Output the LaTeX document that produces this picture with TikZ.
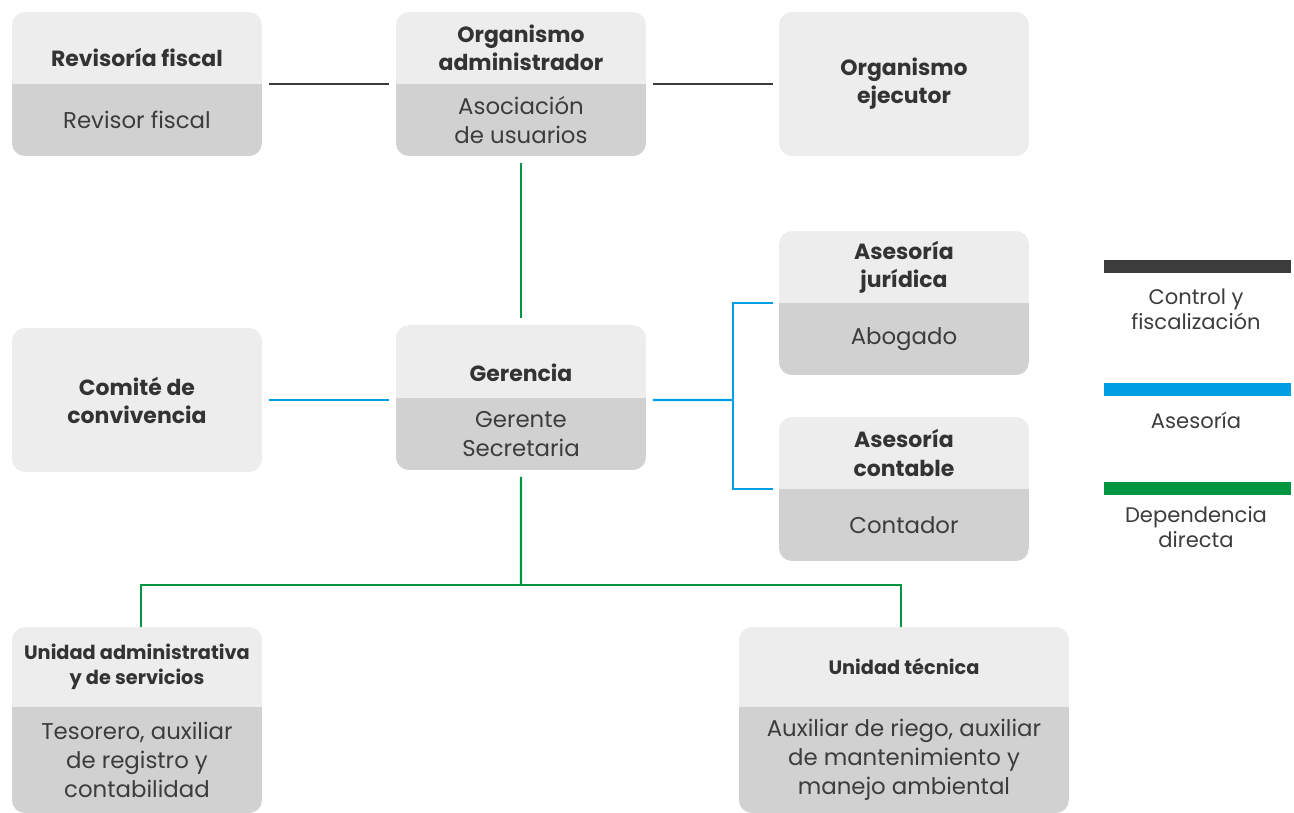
\documentclass[tikz,border=0pt]{standalone}
\usepackage{fontspec}
\setmainfont{Poppins}
\usetikzlibrary{calc}

\definecolor{claro}{HTML}{EDEDED}
\definecolor{oscuro}{HTML}{D1D1D1}
\definecolor{texto}{HTML}{3C3C3C}
\definecolor{lineacontrol}{HTML}{3C3C3C}
\definecolor{lineaasesoria}{HTML}{009FE3}
\definecolor{lineadependencia}{HTML}{00963F}

\tikzset{
  caja/.style={fill=claro, rounded corners=0.26cm, anchor=north west, inner sep=0pt, outer sep=0pt},
  titulo/.style={font=\fontsize{12.5}{16}\selectfont\bfseries, text=texto!85!black, align=center},
  titulochico/.style={font=\fontsize{11}{14.5}\selectfont\bfseries},
  cuerpo/.style={font=\fontsize{13}{16.5}\selectfont, text=texto, align=center},
  leyenda/.style={font=\fontsize{12}{14.2}\selectfont, text=texto, align=center},
  control/.style={draw=lineacontrol, line width=1.2pt},
  asesoria/.style={draw=lineaasesoria, line width=1.2pt},
  dependencia/.style={draw=lineadependencia, line width=1.2pt},
}

% caja con cabecera clara y cuerpo oscuro
% [opciones del titulo] nombre, x, y, ancho, alto, alto cabecera, titulo, cuerpo
\newcommand\orgcaja[9][]{%
  \node[caja, minimum width=#5, minimum height=#6] (#2) at (#3,#4) {};
  \coordinate (#2-so) at ([yshift=-#7]#2.north west);
  \coordinate (#2-se) at ([yshift=-#7]#2.north east);
  \begin{scope}
    \clip[rounded corners=0.26cm] (#2.north west) rectangle (#2.south east);
    \fill[oscuro] (#2-so) rectangle (#2.south east);
  \end{scope}
  \node[titulo, #1] (#2-t) at ($(#2.north west)!0.5!(#2-se)$) {#8};
  \node[cuerpo] (#2-c) at ($(#2-so)!0.5!(#2.south east)$) {#9};
}

\begin{document}
\begin{tikzpicture}[x=0.02cm, y=-0.02cm]
  \useasboundingbox (0,0) rectangle (1294,812);

  % Fila superior
  \orgcaja[yshift=-0.18cm]{rev}{12}{12}{5cm}{2.88cm}{1.44cm}{Revisoría fiscal}{Revisor fiscal}
  \orgcaja{adm}{396}{12}{5cm}{2.88cm}{1.44cm}{Organismo\\administrador}{Asociación\\de usuarios}
  \node[caja, titulo, minimum width=5cm, minimum height=2.88cm] (ejec) at (779,12) {Organismo\\ejecutor};

  % Fila media
  \node[caja, titulo, minimum width=5cm, minimum height=2.88cm] (com) at (12,328) {Comité de\\convivencia};
  \orgcaja[yshift=-0.23cm]{ger}{396}{325}{5cm}{2.9cm}{1.46cm}{Gerencia}{Gerente\\Secretaria}
  \orgcaja{jur}{779}{231}{5cm}{2.88cm}{1.44cm}{Asesoría\\jurídica}{Abogado}
  \orgcaja{con}{779}{417}{5cm}{2.88cm}{1.44cm}{Asesoría\\contable}{Contador}

  % Fila inferior
  \orgcaja[titulochico]{uadm}{12}{627}{5cm}{3.72cm}{1.6cm}{Unidad administrativa\\y de servicios}{Tesorero, auxiliar\\de registro y\\contabilidad}
  \orgcaja[titulochico]{utec}{739}{627}{6.6cm}{3.72cm}{1.6cm}{Unidad técnica}{Auxiliar de riego, auxiliar\\de mantenimiento y\\manejo ambiental}

  % Control y fiscalizacion
  \draw[control] ([xshift=0.14cm]rev-se) -- ([xshift=-0.14cm]adm-so);
  \draw[control] ([xshift=0.14cm]adm-se) -- ([xshift=-0.12cm]ejec.west);

  % Asesoria
  \coordinate (asesor) at (733,400);
  \draw[asesoria] ([xshift=0.14cm]com.east) -- ([xshift=-0.14cm]ger.west |- com.east);
  \draw[asesoria] ([xshift=0.14cm]ger.east |- com.east) -- (asesor);
  \draw[asesoria] ([xshift=-0.12cm]jur-so) -| (asesor) |- ([xshift=-0.12cm]con-so);

  % Dependencia directa
  \coordinate (rama) at (521,585);
  \draw[dependencia] ([yshift=-0.14cm]adm.south) -- ([yshift=0.14cm]ger.north);
  \draw[dependencia] ([yshift=-0.14cm]ger.south) -- (rama);
  \draw[dependencia] ([xshift=0.08cm]uadm.north) |- (rama) -| ([xshift=-0.06cm]utec.north);

  % Leyenda
  \fill[lineacontrol] (1104,260) rectangle (1291,273);
  \node[leyenda] (ley-control) at (1196,309) {Control y\\fiscalización};
  \fill[lineaasesoria] (1104,383) rectangle (1291,396);
  \node[leyenda] (ley-asesoria) at (1196,420) {Asesoría};
  \fill[lineadependencia] (1104,482) rectangle (1291,495);
  \node[leyenda] (ley-dependencia) at (1196,527) {Dependencia\\directa};
\end{tikzpicture}
\end{document}
